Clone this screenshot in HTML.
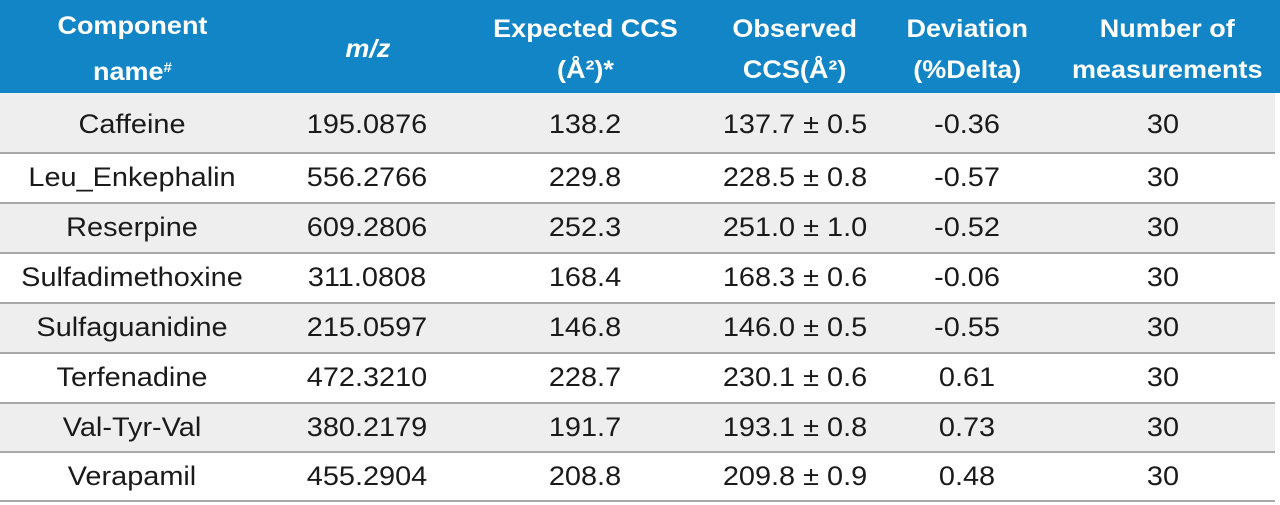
<!DOCTYPE html><html><head><style>
body{margin:0;width:1280px;height:505px;background:#fff;font-family:"Liberation Sans",sans-serif;position:relative;overflow:hidden}
.h{position:absolute;top:0;left:0;width:1280px;height:93px;background:#1185c5}
.hc{position:absolute;top:3px;height:93px;display:flex;align-items:center;justify-content:center;text-align:center;color:#fff;font-weight:bold;font-size:25px;line-height:41px}
.hc span{display:inline-block;transform:scaleX(1.08)}
.r{position:absolute;left:0;width:1275px;border-bottom:2px solid #a8a8a8;box-sizing:border-box}
.c{position:absolute;font-size:27px;color:#1a1a1a;transform:translateX(-50%) scaleX(1.07);white-space:nowrap}
</style></head><body>
<div class="h"></div>
<div class="hc" style="left:0;width:265px"><span>Component<br>name<span style="font-size:14px;vertical-align:8px;transform:none">#</span></span></div>
<div class="hc" style="left:265px;width:205px;font-style:italic"><span>m/z</span></div>
<div class="hc" style="left:470px;width:230px"><span>Expected CCS<br>(Å²)*</span></div>
<div class="hc" style="left:700px;width:190px"><span>Observed<br>CCS(Å²)</span></div>
<div class="hc" style="left:890px;width:155px"><span>Deviation<br>(%Delta)</span></div>
<div class="hc" style="left:1050px;width:235px"><span>Number of<br>measurements</span></div>
<div id="rows"></div>
<script>
var d=[["Caffeine","195.0876","138.2","137.7 ± 0.5","-0.36"],["Leu_Enkephalin","556.2766","229.8","228.5 ± 0.8","-0.57"],["Reserpine","609.2806","252.3","251.0 ± 1.0","-0.52"],["Sulfadimethoxine","311.0808","168.4","168.3 ± 0.6","-0.06"],["Sulfaguanidine","215.0597","146.8","146.0 ± 0.5","-0.55"],["Terfenadine","472.3210","228.7","230.1 ± 0.6","0.61"],["Val-Tyr-Val","380.2179","191.7","193.1 ± 0.8","0.73"],["Verapamil","455.2904","208.8","209.8 ± 0.9","0.48"]];
var tops=[93,154,204,254,304,354,404,453],bots=[154,204,254,304,354,404,453,502];
var xs=[132,367,585,795,967,1163],h="";
d.forEach(function(r,i){var t=tops[i],b=bots[i];
h+='<div class="r" style="top:'+t+'px;height:'+(b-t)+'px;background:'+(i%2?'#fff':'#efeeee')+'"></div>';
var cy=(i==0?125:(t+b)/2-1)-16;
r.concat(["30"]).forEach(function(v,j){h+='<div class="c" style="left:'+xs[j]+'px;top:'+cy+'px">'+v+'</div>';});});
document.getElementById("rows").innerHTML=h;
</script>
</body></html>
